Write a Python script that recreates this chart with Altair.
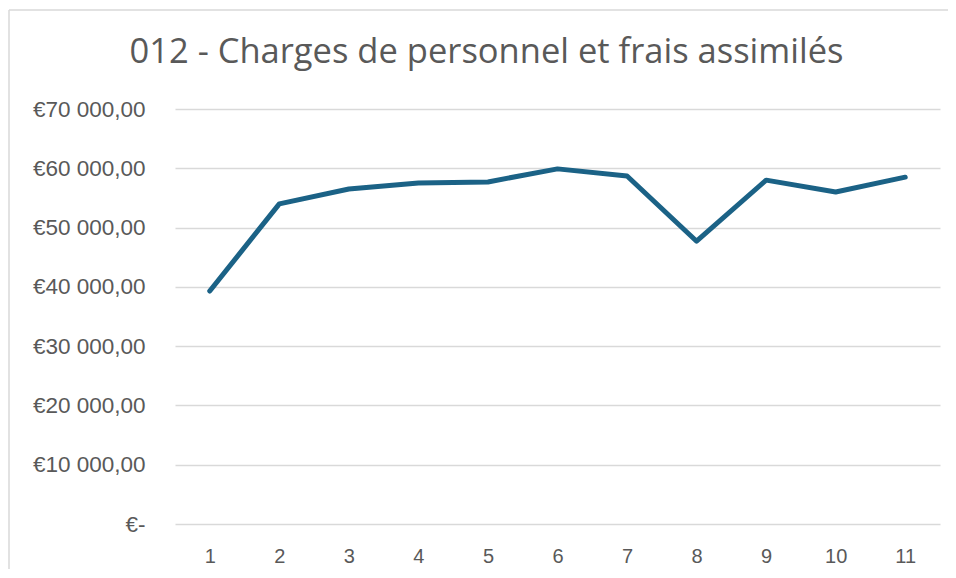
import altair as alt
import pandas as pd

months = ["1", "2", "3", "4", "5", "6", "7", "8", "9", "10", "11"]
values = [39300, 54000, 56500, 57500, 57700, 59900, 58700, 47700, 58000, 56000, 58500]
y_ticks = [0, 10000, 20000, 30000, 40000, 50000, 60000, 70000]
title = "012 - Charges de personnel et frais assimilés"

df = pd.DataFrame({"mois": months, "montant": values})

label_expr = ("datum.value == 0 ? '€-\u00a0\u00a0' : '€' + "
              "replace(replace(format(datum.value, ',.2f'), ',', ' '), '.', ',')")

base = alt.Chart(df)

line = base.mark_line(color="#1B6286", strokeWidth=5, strokeCap="round", strokeJoin="round").encode(
    x=alt.X("mois:N", sort=months, title=None,
            scale=alt.Scale(paddingInner=0, paddingOuter=0),
            axis=alt.Axis(labelAngle=0, domain=False, ticks=False, grid=False,
                          labelFont="Liberation Sans", labelFontSize=20, labelColor="#595959",
                          labelPadding=22)),
    y=alt.Y("montant:Q", title=None,
            scale=alt.Scale(domain=[0, 70000], nice=False),
            axis=alt.Axis(values=y_ticks, labelExpr=label_expr, domain=False, ticks=False,
                          gridColor="#d9d9d9", gridWidth=1.5,
                          labelFont="Liberation Sans", labelFontSize=22.5, labelColor="#595959",
                          labelPadding=30)),
)

frame_left = alt.Chart(pd.DataFrame({"a": [0]})).mark_rule(color="#d9d9d9", strokeWidth=1.5).encode(
    x=alt.value(-166), y=alt.value(-99), y2=alt.value(460)
)
frame_top = alt.Chart(pd.DataFrame({"a": [0]})).mark_rule(color="#d9d9d9", strokeWidth=1.5).encode(
    x=alt.value(-166), x2=alt.value(800), y=alt.value(-99)
)

chart = alt.layer(frame_left, frame_top, line).properties(
    width=765,
    height=415,
    title=alt.TitleParams(title, fontSize=34.5, font="Open Sans", fontWeight="normal", color="#595959",
                          anchor="middle", frame="group", baseline="alphabetic",
                          offset=-88, dx=-71),
    autosize=alt.AutoSizeParams(type="none"),
    padding={"left": 167, "top": 101, "right": 8, "bottom": 46},
).configure_view(stroke=None)

chart.save("out.html", embed_options={"renderer": "svg", "actions": False})
